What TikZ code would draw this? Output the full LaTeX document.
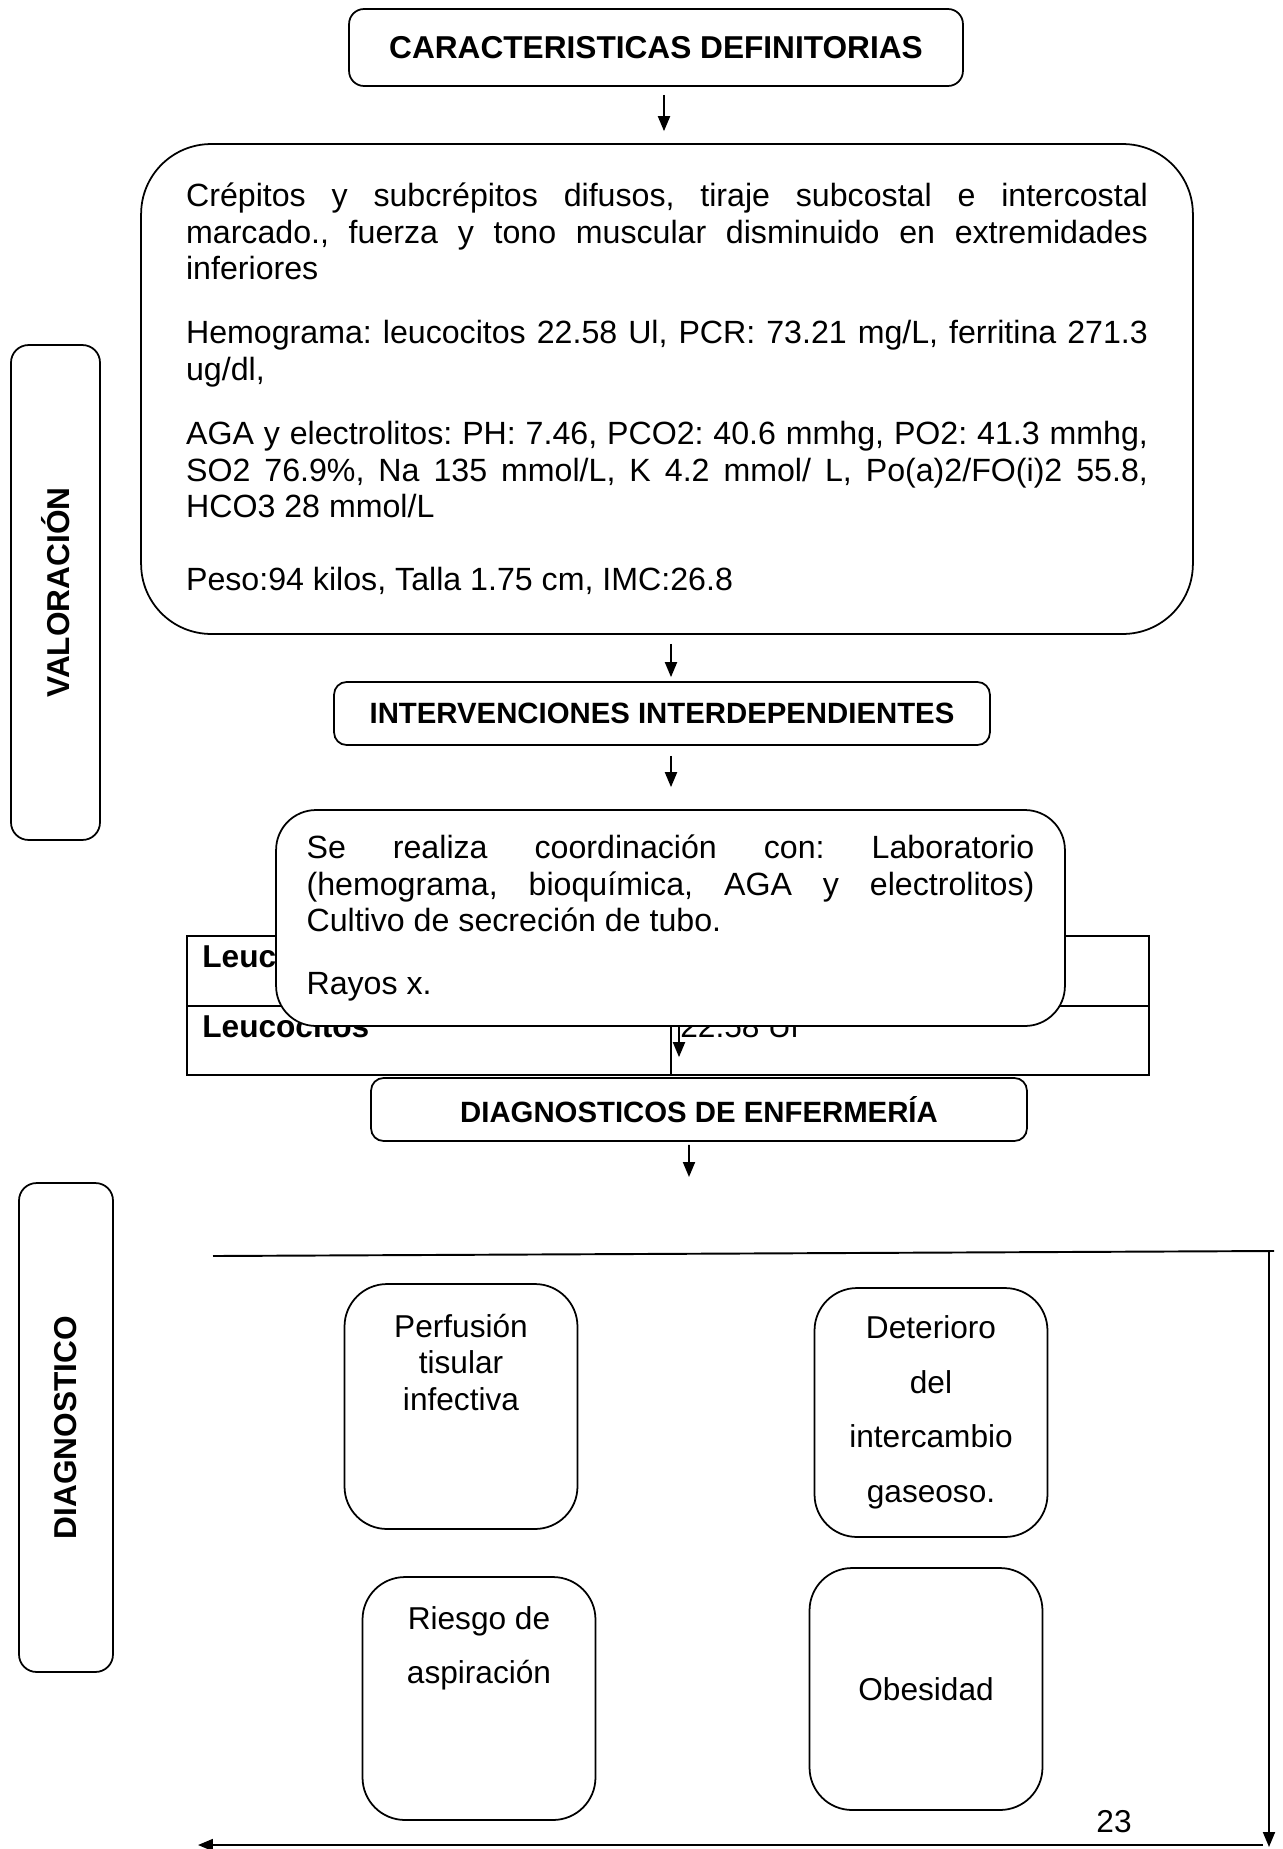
\documentclass[tikz,border=0pt]{standalone}
\usepackage{fontspec}
\setmainfont{Liberation Sans}
\usetikzlibrary{positioning,arrows.meta}
\hyphenpenalty=10000
\exhyphenpenalty=10000
\frenchspacing

\begin{document}
\begin{tikzpicture}[x=0.02cm, y=-0.02cm,
          box/.style={rectangle, draw, line width=1pt, rounded corners=0.3cm,
              font=\fontsize{18}{20.7}\selectfont\bfseries, align=center},
          txtbox/.style={rectangle, draw, line width=1pt, fill=white,
              font=\fontsize{18.3}{20.7}\selectfont, align=justify},
          side/.style={rectangle, draw, line width=1pt, rounded corners=0.35cm,
              rotate=90, font=\fontsize{18}{20.7}\selectfont\bfseries},
          dx/.style={rectangle, draw, line width=1pt, rounded corners=0.85cm,
              inner sep=0pt, minimum width=4.66cm,
              font=\fontsize{18}{31}\selectfont, align=center},
          cell/.style={inner sep=0pt, anchor=west, font=\fontsize{18}{20.7}\selectfont},
          arr/.style={-{Triangle[length=0.3cm,width=0.24cm]}, line width=1.1pt}
        ]
        \useasboundingbox (0,0) rectangle (1283,1849);
        \node[box, minimum width=12.28cm, minimum height=1.54cm] (car) at (656,47.5) {CARACTERISTICAS DEFINITORIAS};
        \node[txtbox, rounded corners=1.4cm, minimum width=21.04cm, minimum height=9.8cm,
              text width=19.24cm] (val) at (667,389)
              {Crépitos y subcrépitos difusos, tiraje subcostal e intercostal\linebreak
               marcado., fuerza y tono muscular disminuido en extremidades\linebreak
               inferiores\par\vspace{16pt}
               Hemograma: leucocitos 22.58 Ul, PCR: 73.21 mg/L, ferritina 271.3\linebreak
               ug/dl,\par\vspace{16pt}
               AGA y electrolitos: PH: 7.46, PCO2: 40.6 mmhg, PO2: 41.3 mmhg,\linebreak
               SO2 76.9\%, Na 135 mmol/L, K 4.2 mmol/ L, Po(a)2/FO(i)2 55.8,\linebreak
               HCO3 28 mmol/L\par\vspace{21pt}
               Peso:94 kilos, Talla 1.75 cm, IMC:26.8};
        \node[box, minimum width=13.12cm, minimum height=1.26cm, rounded corners=0.25cm,
              font=\fontsize{16.7}{20}\selectfont\bfseries] (inter) at (662,713.5) {INTERVENCIONES INTERDEPENDIENTES};
        \draw[line width=1pt] (187,936) rectangle (1149,1075);
        \draw[line width=1pt] (187,1006) -- (1149,1006) (671,936) -- (671,1075);
        \node[cell, font=\fontsize{18}{20.7}\selectfont\bfseries] (leuca) at (202,956) {Leucocitos};
        \node[cell, font=\fontsize{18}{20.7}\selectfont\bfseries] (leucb) at (202,1026) {Leucocitos};
        \node[cell] (leucv) at (680,1026) {22.58 Ul};
        \node[txtbox, rounded corners=0.8cm, minimum width=15.78cm, minimum height=4.32cm,
              text width=14.56cm] (coord) at (670.5,918)
              {Se realiza coordinación con: Laboratorio\linebreak
               (hemograma, bioquímica, AGA y electrolitos)\linebreak
               Cultivo de secreción de tubo.\par\vspace{15pt}
               Rayos x.};
        \node[box, minimum width=13.12cm, minimum height=1.26cm, rounded corners=0.25cm,
              font=\fontsize{16.7}{20}\selectfont\bfseries] (diag) at (699,1109.5) {DIAGNOSTICOS DE ENFERMERÍA};
        \node[side, minimum width=9.9cm, minimum height=1.78cm] (lblval) at (55.5,592.5) {VALORACIÓN};
        \node[side, minimum width=9.78cm, minimum height=1.88cm] (lbldiag) at (66,1427.5) {DIAGNOSTICO};
        \node[dx, minimum height=4.9cm] (perf) at (461,1406.5)
              {\parbox[c][4.9cm][t]{4.6cm}{\centering\fontsize{18}{20.7}\selectfont
               \vspace*{16pt}\strut Perfusión\\tisular\\infectiva}};
        \node[dx, minimum height=4.98cm] (deter) at (931,1412.5) {Deterioro\\del\\intercambio\\gaseoso.};
        \node[dx, minimum height=4.86cm] (riesgo) at (479,1698.5)
              {\parbox[c][4.86cm][t]{4.6cm}{\centering
               \vspace*{8pt}\strut Riesgo de\\aspiración}};
        \node[dx, minimum height=4.84cm] (obes) at (926,1689) {Obesidad};
        \node[font=\fontsize{18}{20.7}\selectfont] (pg) at (1114,1822) {23};
        \coordinate (d4) at (689,1177);
        \coordinate (fl) at (213,1256);
        \coordinate (fr) at (1274,1251);
        \coordinate (rt) at (1269,1251);
        \coordinate (rb) at (1269,1847);
        \coordinate (bs) at (1263,1845);
        \coordinate (be) at (198,1845);
        \draw[arr, shorten <=0.16cm, shorten >=0.24cm] ([xshift=0.16cm]car.south) -- ([xshift=0.16cm]car.south |- val.north);
        \draw[arr, shorten <=0.18cm, shorten >=0.08cm] ([xshift=0.08cm]val.south) -- ([xshift=0.08cm]val.south |- inter.north);
        \draw[arr, shorten <=0.2cm, shorten >=0.44cm] ([xshift=0.18cm]inter.south) -- ([xshift=0.18cm]inter.south |- coord.north);
        \draw[arr, shorten >=0.4cm] ([xshift=0.17cm]coord.south) -- ([xshift=0.17cm]coord.south |- diag.north);
        \draw[arr, shorten <=0.06cm] ([xshift=-0.2cm]diag.south) -- (d4);
        \draw[line width=1.1pt] (fl) -- (fr);
        \draw[arr] (rt) -- (rb);
        \draw[arr] (bs) -- (be);
      \end{tikzpicture}
\end{document}
